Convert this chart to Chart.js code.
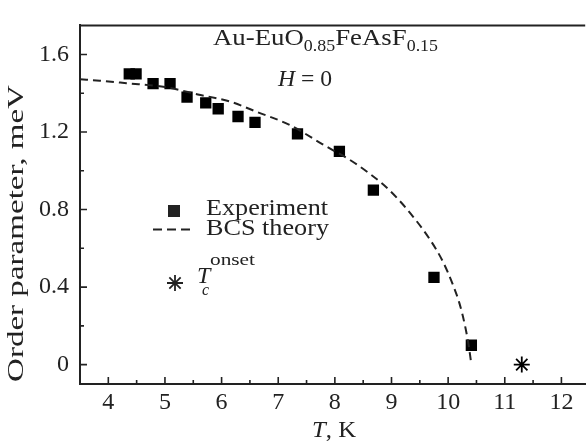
<!DOCTYPE html>
<html>
<head>
<meta charset="utf-8">
<script src="https://cdn.jsdelivr.net/npm/chart.js@4"></script>
<style>
  html, body { margin: 0; padding: 0; background: #fff; overflow: hidden; }
  #wrap { width: 595px; height: 442px; }
</style>
</head>
<body>
<div id="wrap"><canvas id="chart" width="595" height="442"></canvas></div>
<script>
// experiment points (T in K, gap in meV)
const expT = [4.37, 4.49, 4.79, 5.09, 5.39, 5.72, 5.94, 6.29, 6.59, 7.34, 8.08, 8.68, 9.75, 10.41];
const expGap = [1.50, 1.50, 1.45, 1.45, 1.38, 1.35, 1.32, 1.28, 1.25, 1.19, 1.10, 0.90, 0.45, 0.10];

// BCS curve
const bcsT = [3.5, 3.85, 4.32, 5.0, 5.58, 6.15, 6.62, 7.19, 7.77, 8.35, 8.87, 9.10, 9.39, 9.68, 9.91, 10.08, 10.20, 10.31, 10.37, 10.41];
const bcsGap = [1.472, 1.465, 1.452, 1.432, 1.394, 1.357, 1.304, 1.238, 1.139, 1.04, 0.925, 0.859, 0.76, 0.645, 0.53, 0.415, 0.316, 0.184, 0.085, 0.0];

// Tc onset
const onsetT = [11.3];
const onsetGap = [0];

const xTicks = [4, 5, 6, 7, 8, 9, 10, 11, 12];
const xMinor = [4.5, 5.5, 6.5, 7.5, 8.5, 9.5, 10.5, 11.5];
const yTicks = [0, 0.4, 0.8, 1.2, 1.6];
const yTickLabels = ['0', '0.4', '0.8', '1.2', '1.6'];
const yMinor = [0.2, 0.6, 1.0, 1.4];

const ink = '#222';
const serif = '"Liberation Serif", "Times New Roman", Times, serif';

function toXY(xs, ys) {
    return xs.map((x, i) => ({x: x, y: ys[i]}));
}

// draws a run of text pieces, squeezed/stretched to a given width
function drawRun(ctx, parts, x, base, width) {
    let w = 0;
    parts.forEach(p => { ctx.font = p.font; w += ctx.measureText(p.t).width; });
    const sx = width ? width / w : 1;
    ctx.save();
    ctx.translate(x, base);
    ctx.scale(sx, 1);
    let cx = 0;
    parts.forEach(p => {
        ctx.font = p.font;
        ctx.fillText(p.t, cx, p.dy || 0);
        cx += ctx.measureText(p.t).width;
    });
    ctx.restore();
}

const extras = {
    id: 'extras',
    afterDraw(chart) {
        const ctx = chart.ctx;
        const a = chart.chartArea;
        const xs = chart.scales.x, ys = chart.scales.y;
        ctx.save();
        ctx.strokeStyle = ink;
        ctx.fillStyle = ink;

        // top frame line
        ctx.lineWidth = 2;
        ctx.beginPath();
        ctx.moveTo(a.left - 1, a.top);
        ctx.lineTo(a.right, a.top);
        ctx.stroke();

        // inward ticks
        ctx.lineWidth = 1.6;
        ctx.beginPath();
        xTicks.forEach(v => { const p = xs.getPixelForValue(v); ctx.moveTo(p, a.bottom); ctx.lineTo(p, a.bottom - 7); });
        xMinor.forEach(v => { const p = xs.getPixelForValue(v); ctx.moveTo(p, a.bottom); ctx.lineTo(p, a.bottom - 4); });
        yTicks.forEach(v => { const p = ys.getPixelForValue(v); ctx.moveTo(a.left, p); ctx.lineTo(a.left + 7, p); });
        yMinor.forEach(v => { const p = ys.getPixelForValue(v); ctx.moveTo(a.left, p); ctx.lineTo(a.left + 4, p); });
        ctx.stroke();

        ctx.textBaseline = 'alphabetic';
        ctx.textAlign = 'left';

        // sample name and field
        drawRun(ctx, [
            {t: 'Au-EuO', font: '24px ' + serif},
            {t: '0.85', font: '16px ' + serif, dy: 6},
            {t: 'FeAsF', font: '24px ' + serif},
            {t: '0.15', font: '16px ' + serif, dy: 6}
        ], 213, 45, 225);
        drawRun(ctx, [
            {t: 'H', font: 'italic 24px ' + serif},
            {t: ' = 0', font: '24px ' + serif}
        ], 278, 86, 54);

        // legend
        ctx.fillRect(168, 205, 12, 12);
        drawRun(ctx, [{t: 'Experiment', font: '23px ' + serif}], 206, 215, 122);
        ctx.lineWidth = 2;
        ctx.setLineDash([9, 5]);
        ctx.beginPath();
        ctx.moveTo(153, 229.5);
        ctx.lineTo(194, 229.5);
        ctx.stroke();
        ctx.setLineDash([]);
        drawRun(ctx, [{t: 'BCS theory', font: '23px ' + serif}], 206, 235, 123);

        // star marker in legend
        const sx = 175, sy = 283, r = 8;
        ctx.lineWidth = 1.8;
        ctx.beginPath();
        for (let k = 0; k < 4; k++) {
            const ang = k * Math.PI / 4;
            ctx.moveTo(sx - r * Math.cos(ang), sy - r * Math.sin(ang));
            ctx.lineTo(sx + r * Math.cos(ang), sy + r * Math.sin(ang));
        }
        ctx.stroke();
        drawRun(ctx, [{t: 'T', font: 'italic 24px ' + serif}], 197, 283);
        drawRun(ctx, [{t: 'c', font: 'italic 16px ' + serif}], 202, 295);
        drawRun(ctx, [{t: 'onset', font: '16px ' + serif}], 210, 265, 45);

        // axis titles
        drawRun(ctx, [
            {t: 'T', font: 'italic 23px ' + serif},
            {t: ', K', font: '23px ' + serif}
        ], 312, 437, 44);
        ctx.save();
        ctx.translate(23, 382);
        ctx.rotate(-Math.PI / 2);
        drawRun(ctx, [{t: 'Order parameter, meV', font: '23px ' + serif}], 0, 0, 297);
        ctx.restore();

        ctx.restore();
    }
};

new Chart(document.getElementById('chart'), {
    type: 'scatter',
    data: {
        datasets: [
            {
                label: 'BCS theory',
                type: 'line',
                data: toXY(bcsT, bcsGap),
                borderColor: ink,
                borderWidth: 2,
                borderDash: [8, 5],
                pointRadius: 0,
                fill: false,
                cubicInterpolationMode: 'monotone'
            },
            {
                label: 'Experiment',
                data: toXY(expT, expGap),
                pointStyle: 'rect',
                pointRadius: 8,
                pointHoverRadius: 8,
                backgroundColor: '#000',
                borderColor: '#000',
                borderWidth: 0
            },
            {
                label: 'Tc onset',
                data: toXY(onsetT, onsetGap),
                pointStyle: 'star',
                pointRadius: 8,
                pointHoverRadius: 8,
                borderColor: '#000',
                borderWidth: 1.8,
                backgroundColor: '#000'
            }
        ]
    },
    options: {
        responsive: false,
        animation: false,
        layout: { padding: { top: 9, left: 0, right: 0, bottom: 0 } },
        plugins: {
            legend: { display: false },
            tooltip: { enabled: false }
        },
        scales: {
            x: {
                type: 'linear',
                min: 3.5,
                max: 12.42,
                afterFit: s => { s.height = 58; },
                afterBuildTicks: s => { s.ticks = xTicks.map(v => ({value: v})); },
                grid: { display: false, drawTicks: false },
                border: { display: true, color: ink, width: 2 },
                ticks: {
                    padding: 4,
                    color: ink,
                    font: { family: serif, size: 24 },
                    callback: v => String(v)
                }
            },
            y: {
                type: 'linear',
                min: -0.1,
                max: 1.75,
                afterFit: s => { s.width = 80; },
                afterBuildTicks: s => { s.ticks = yTicks.map(v => ({value: v})); },
                grid: { display: false, drawTicks: false },
                border: { display: true, color: ink, width: 2 },
                ticks: {
                    padding: 11,
                    color: ink,
                    font: { family: serif, size: 24 },
                    callback: v => yTickLabels[yTicks.indexOf(v)] ?? ''
                }
            }
        }
    },
    plugins: [extras]
});
</script>
</body>
</html>
